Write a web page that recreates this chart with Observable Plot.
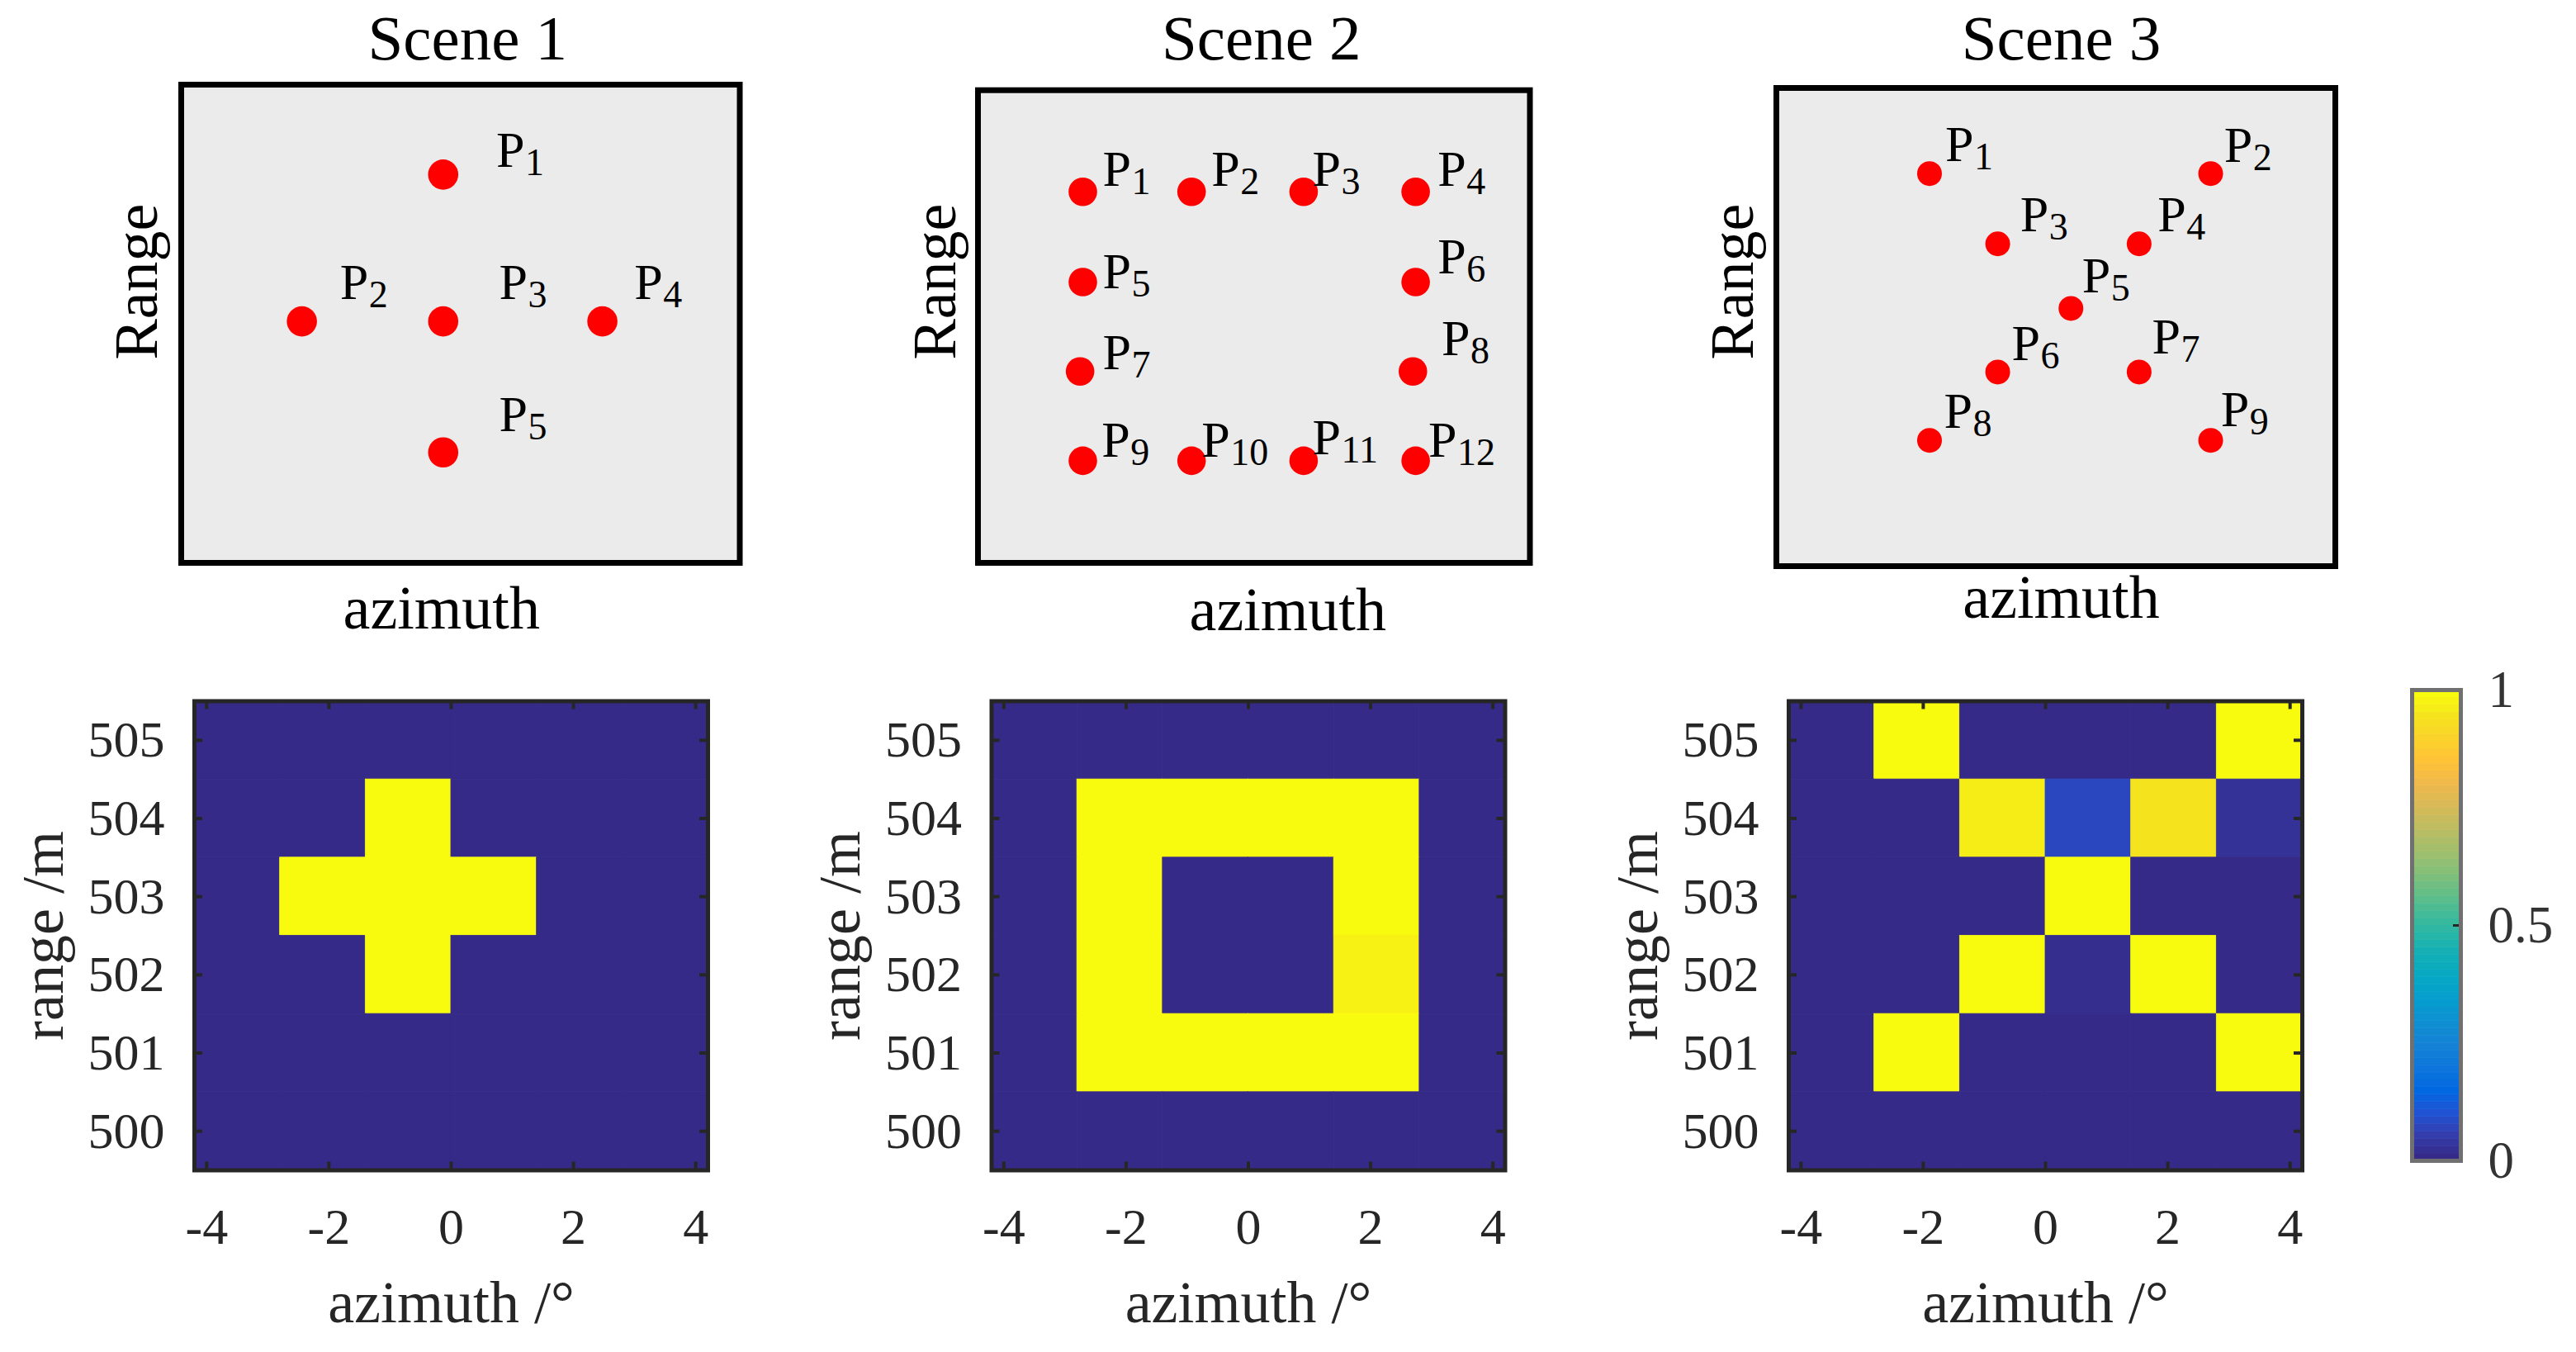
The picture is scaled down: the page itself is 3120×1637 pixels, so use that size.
<!DOCTYPE html>
<html><head><meta charset="utf-8">
<script src="https://cdn.jsdelivr.net/npm/d3@7"></script>
<script src="https://cdn.jsdelivr.net/npm/@observablehq/plot@0.6"></script>
<style>
html,body{margin:0;padding:0;background:#fff;overflow:hidden;}
#fig{position:relative;width:3120px;height:1637px;background:#fff;}
#fig svg{position:absolute;}
#fig svg, #fig svg text{font-family:"Liberation Serif","Times New Roman",serif !important;}
</style></head><body><div id="fig"></div>
<script>
// ---------- data: top schematic scenes (arbitrary 0..10 scene units) ----------
const scene1Ids = ["1","2","3","4","5"];
const scene1X = [4.69, 2.16, 4.69, 7.54, 4.69];
const scene1Y = [8.12, 5.05, 5.05, 5.05, 2.31];
const scene1LabelX = [5.64, 2.84, 5.69, 8.11, 5.69];
const scene1LabelY = [8.28, 5.52, 5.52, 5.52, 2.76];

const scene2Ids = ["1","2","3","4","5","6","7","8","9","10","11","12"];
const scene2X = [1.90, 3.87, 5.90, 7.93, 1.90, 7.93, 1.85, 7.88, 1.90, 3.87, 5.90, 7.93];
const scene2Y = [7.85, 7.85, 7.85, 7.85, 5.94, 5.94, 4.05, 4.05, 2.16, 2.16, 2.16, 2.16];
const scene2LabelX = [2.26, 4.23, 6.06, 8.33, 2.26, 8.33, 2.26, 8.40, 2.24, 4.05, 6.06, 8.16];
const scene2LabelY = [7.98, 7.98, 7.98, 7.98, 5.81, 6.12, 4.09, 4.39, 2.25, 2.25, 2.29, 2.25];

const scene3Ids = ["1","2","3","4","5","6","7","8","9"];
const scene3X = [2.74, 7.77, 3.96, 6.49, 5.27, 3.96, 6.49, 2.74, 7.77];
const scene3Y = [8.21, 8.21, 6.74, 6.74, 5.39, 4.06, 4.06, 2.63, 2.63];
const scene3LabelX = [3.02, 8.01, 4.36, 6.82, 5.47, 4.21, 6.72, 3.00, 7.95];
const scene3LabelY = [8.48, 8.46, 7.00, 7.00, 5.72, 4.31, 4.45, 2.89, 2.93];

// ---------- data: imaging results ----------
const azimuthCenters = [-3.5, -2.1, -0.7, 0.7, 2.1, 3.5];   // deg
const azimuthBinWidth = 1.4;                                // deg
const rangeRows = [505, 504, 503, 502, 501, 500];           // m (matrix rows, top to bottom)
const rangeBinHeight = 1;
const result1 = [
  [0, 0, 0, 0, 0, 0],
  [0, 0, 1, 0, 0, 0],
  [0, 1, 1, 1, 0, 0],
  [0, 0, 1, 0, 0, 0],
  [0, 0, 0, 0, 0, 0],
  [0, 0, 0, 0, 0, 0]
];
const result2 = [
  [0, 0, 0, 0, 0, 0],
  [0, 1, 1, 1, 1, 0],
  [0, 1, 0, 0, 1, 0],
  [0, 1, 0, 0, 0.98, 0],
  [0, 1, 1, 1, 1, 0],
  [0, 0, 0, 0, 0, 0]
];
const result3 = [
  [0, 1, 0, 0, 0, 1],
  [0, 0, 0.97, 0.07, 0.95, 0.02],
  [0, 0, 0, 1, 0, 0],
  [0, 0, 1, 0.01, 1, 0],
  [0, 1, 0, 0, 0, 1],
  [0, 0, 0, 0, 0, 0]
];
const xTicks = [-4, -2, 0, 2, 4];
const yTicks = [500, 501, 502, 503, 504, 505];
const colorbarTicks = [0, 0.5, 1];

// ---------- style ----------
const parulaStops = ["#352a87","#353dad","#2053d4","#0268e1","#0d75dc","#1481d6","#108ed2","#079ccf",
  "#06a7c6","#0faeb9","#25b5a9","#42bb98","#65be86","#87bf77","#a5be6b","#c0bc60","#d9ba56",
  "#f1b94a","#ffc337","#fad32a","#f5e41d","#f9fb0e"];
const parula = d3.piecewise(d3.interpolateRgb, parulaStops);
const colorScale = {type: "linear", domain: [0, 1], interpolate: parula};
const serif = "Liberation Serif";
const fig = document.getElementById("fig");

function place(svg, left, top) {
  svg.style.left = left + "px";
  svg.style.top = top + "px";
  fig.appendChild(svg);
}

function topScene(c) {
  const H = 790;
  const [fx0, fx1, fy0, fy1] = c.frame;
  const pts = c.ids.map((id, i) => ({id, x: c.xs[i], y: c.ys[i], lx: c.lxs[i], ly: c.lys[i]}));
  const cy = (fy0 + fy1) / 2;
  const txt = {fontFamily: serif, fill: "#000"};
  const svg = Plot.plot({
    width: c.svgWidth, height: H,
    marginLeft: fx0 - c.svgLeft, marginRight: c.svgLeft + c.svgWidth - fx1,
    marginTop: fy0, marginBottom: H - fy1,
    x: {domain: [0, 10], axis: null},
    y: {domain: [0, 10], axis: null},
    style: {fontFamily: serif, fontSize: "74px", color: "#000", overflow: "visible", background: "transparent"},
    marks: [
      Plot.frame({fill: "#ebebeb", stroke: null}),
      Plot.dot(pts, {x: "x", y: "y", r: c.r, fill: "#ff0000", stroke: null}),
      Plot.text(pts, {x: "lx", y: "ly", text: () => "P", textAnchor: "start", lineAnchor: "bottom", fontSize: 62, ...txt}),
      Plot.text(pts, {x: "lx", y: "ly", text: "id", textAnchor: "start", lineAnchor: "bottom", fontSize: 46, dx: 35, dy: 10, ...txt}),
      Plot.frame({stroke: "#000", strokeWidth: 7}),
      Plot.text([c.title], {text: d => d, frameAnchor: "top", textAnchor: "middle", lineAnchor: "bottom",
        dx: c.titleDx, dy: 71.4 - fy0, fontSize: 77, ...txt}),
      Plot.text(["Range"], {text: d => d, frameAnchor: "left", rotate: -90, textAnchor: "middle", lineAnchor: "bottom",
        dx: c.rangeBase - fx0, dy: 340.6 - cy, fontSize: 74, ...txt}),
      Plot.text(["azimuth"], {text: d => d, frameAnchor: "bottom", textAnchor: "middle", lineAnchor: "bottom",
        dx: c.azDx, dy: c.azBase - fy1, fontSize: 74, ...txt})
    ]
  });
  place(svg, c.svgLeft, 0);
}

topScene({title: "Scene 1", ids: scene1Ids, xs: scene1X, ys: scene1Y, lxs: scene1LabelX, lys: scene1LabelY,
  r: 18.3, frame: [219, 895.5, 102, 681], svgLeft: 90, svgWidth: 900,
  titleDx: 8.5, rangeBase: 189, azDx: -23, azBase: 760});
topScene({title: "Scene 2", ids: scene2Ids, xs: scene2X, ys: scene2Y, lxs: scene2LabelX, lys: scene2LabelY,
  r: 17.3, frame: [1184, 1852.5, 108.7, 681], svgLeft: 1040, svgWidth: 900,
  titleDx: 9, rangeBase: 1156, azDx: 41, azBase: 762.7});
topScene({title: "Scene 3", ids: scene3Ids, xs: scene3X, ys: scene3Y, lxs: scene3LabelX, lys: scene3LabelY,
  r: 15, frame: [2151, 2828, 106, 685], svgLeft: 2000, svgWidth: 900,
  titleDx: 6.5, rangeBase: 2122, azDx: 6.5, azBase: 747.4});

function heatmap(matrix, frameLeft, svgLeft, svgWidth) {
  const top = 790, H = 847, mT = 58.5, mB = 220.5, W = 622, PH = H - mT - mB;
  const cells = matrix.flatMap((row, i) => row.map((v, j) => ({
    x1: azimuthCenters[j] - azimuthBinWidth / 2, x2: azimuthCenters[j] + azimuthBinWidth / 2,
    y1: rangeRows[i] - rangeBinHeight / 2, y2: rangeRows[i] + rangeBinHeight / 2, v
  })));
  const tickStyle = {stroke: "#262626", strokeWidth: 4};
  const txt = {fontFamily: serif, fill: "#262626"};
  const svg = Plot.plot({
    width: svgWidth, height: H,
    marginLeft: frameLeft - svgLeft, marginRight: svgLeft + svgWidth - frameLeft - W,
    marginTop: mT, marginBottom: mB,
    x: {domain: [-4.2, 4.2]},
    y: {domain: [499.5, 505.5]},
    color: colorScale,
    style: {fontFamily: serif, fontSize: "62px", color: "#262626", overflow: "visible", background: "transparent"},
    marks: [
      Plot.rect(cells, {x1: "x1", x2: "x2", y1: "y1", y2: "y2", fill: "v", stroke: "v", strokeWidth: 0.8}),
      Plot.axisX({ticks: xTicks, tickSize: 0, tickPadding: 45, tickFormat: d => String(d), label: null, fontFamily: serif, fontSize: 62}),
      Plot.axisY({ticks: yTicks, tickSize: 0, tickPadding: 36, tickFormat: d => String(d), label: null, fontFamily: serif, fontSize: 62}),
      Plot.tickX(xTicks, {x: d => d, insetTop: PH - 10, ...tickStyle}),
      Plot.tickX(xTicks, {x: d => d, insetBottom: PH - 10, ...tickStyle}),
      Plot.tickY(yTicks, {y: d => d, insetRight: W - 10, ...tickStyle}),
      Plot.tickY(yTicks, {y: d => d, insetLeft: W - 10, ...tickStyle}),
      Plot.frame({stroke: "#262626", strokeWidth: 5}),
      Plot.text(["range /m"], {text: d => d, frameAnchor: "left", rotate: -90, textAnchor: "middle", lineAnchor: "bottom",
        dx: -160, fontSize: 72, ...txt}),
      Plot.text(["azimuth /°"], {text: d => d, frameAnchor: "bottom", textAnchor: "middle", lineAnchor: "bottom",
        dy: 183.5, fontSize: 72, ...txt})
    ]
  });
  place(svg, svgLeft, top);
}

heatmap(result1, 235, 0, 960);
heatmap(result2, 1200.5, 970, 960);
heatmap(result3, 2166, 1935, 945);

// ---------- colorbar ----------
const bands = d3.range(64).map(i => ({y1: i / 64, y2: (i + 1) / 64, v: i / 63}));
const cb = Plot.plot({
  width: 240, height: 847,
  marginLeft: 41, marginRight: 140, marginTop: 45, marginBottom: 232,
  y: {domain: [0, 1]},
  color: colorScale,
  style: {fontFamily: serif, fontSize: "63px", color: "#333", overflow: "visible", background: "transparent"},
  marks: [
    Plot.rect(bands, {y1: "y1", y2: "y2", fill: "v", stroke: "v", strokeWidth: 0.6}),
    Plot.axisY({anchor: "right", ticks: colorbarTicks, tickSize: 0, tickPadding: 33, tickFormat: d => String(d), label: null, fontFamily: serif, fontSize: 63}),
    Plot.tickY([0.5], {y: d => d, insetLeft: 59 - 9, stroke: "#262626", strokeWidth: 3}),
    Plot.frame({stroke: "#707070", strokeWidth: 5})
  ]
});
place(cb, 2880, 790);
</script></body></html>
